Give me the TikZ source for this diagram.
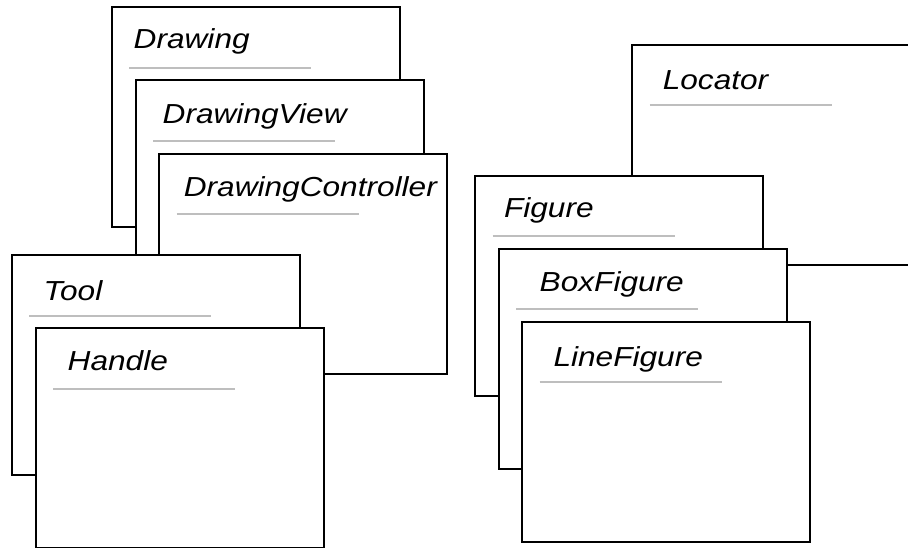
\documentclass[tikz,border=0pt]{standalone}
\usepackage{fontspec}
\setmainfont{Liberation Sans}
\usetikzlibrary{calc}
\begin{document}
\begin{tikzpicture}[x=1pt,y=-1pt,
  classbox/.style={draw=black, line width=2pt, fill=white,
    minimum width=288pt, minimum height=220pt,
    anchor=north west, inner sep=0pt, outer sep=0pt},
  title/.style={font=\fontsize{27.5}{30}\selectfont\itshape,
    anchor=base west, inner sep=0pt, outer sep=0pt, xscale=1.15},
  rule/.style={draw={rgb,255:red,190;green,190;blue,190}, line width=2pt}
]
\useasboundingbox (0,0) rectangle (908,548);
\clip (0,0) rectangle (908,548);

% a class card: frame, italic name, grey rule under the name
\newcommand\classcard[6]{%
  \node[classbox] (#1) at (#2,#3) {};
  \node[title] (#1-name) at ($(#1.north west)+(#5,#6)$) {#4};
  \coordinate (#1-rs) at ($(#1.north west)+(17.5,60.5)$);
  \coordinate (#1-re) at ($(#1-rs)+(182,0)$);
  \draw[rule] (#1-rs) -- (#1-re);
}

% left stack
\classcard{drawing}{111.7}{7.3}{Drawing}{22}{41}
\classcard{drawingview}{135.7}{80.3}{DrawingView}{27}{43}
\classcard{drawingctrl}{159.3}{153.7}{DrawingController}{24.5}{43}
\classcard{tool}{11.7}{255}{Tool}{32}{46}
\classcard{handle}{35.7}{328}{Handle}{32}{42}

% right stack
\classcard{locator}{632.3}{45}{Locator}{30.5}{45}
\classcard{figure}{475}{175.7}{Figure}{29}{42.3}
\classcard{boxfigure}{498.7}{248.7}{BoxFigure}{41}{43}
\classcard{linefigure}{522}{321.7}{LineFigure}{31.5}{45}
\end{tikzpicture}
\end{document}
